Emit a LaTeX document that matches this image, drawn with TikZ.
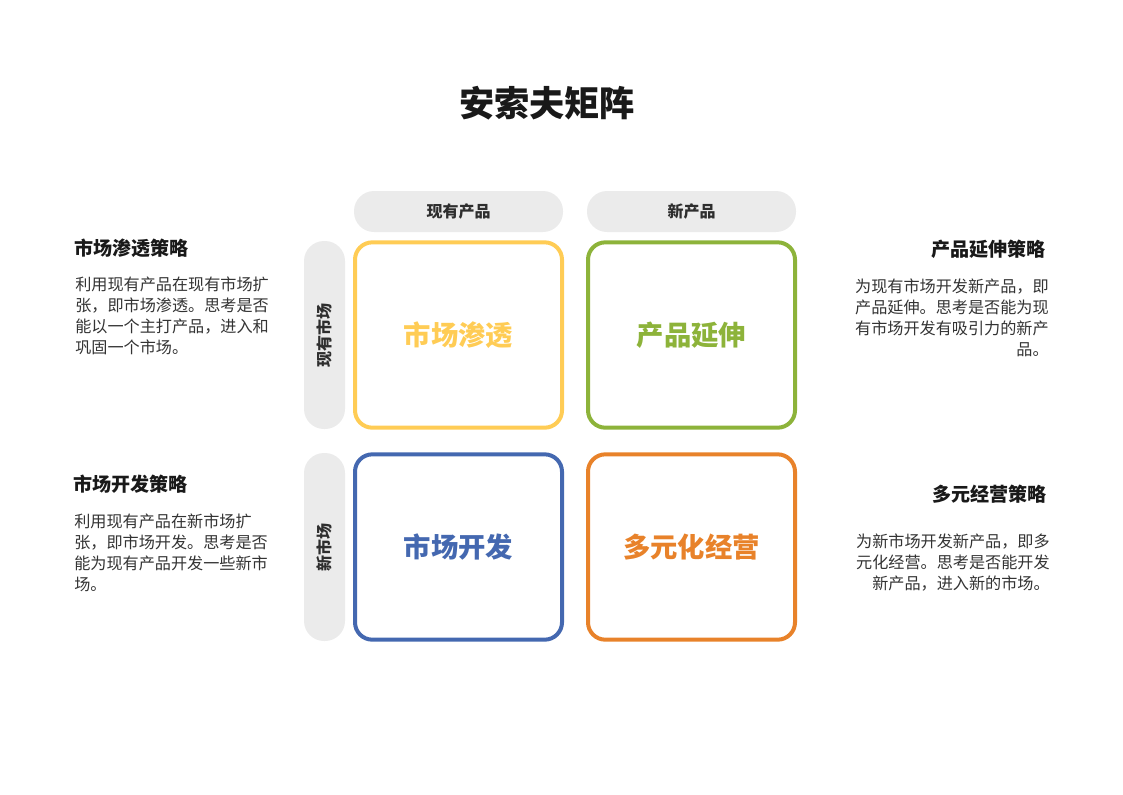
\documentclass[tikz,border=0pt]{standalone}
\usepackage{fontspec}
\setmainfont{Noto Sans CJK SC}
\usepackage{tikz}
\usetikzlibrary{positioning}

\definecolor{penyellow}{HTML}{FFCC55}
\definecolor{devgreen}{HTML}{8DB33A}
\definecolor{mktblue}{HTML}{4468B0}
\definecolor{divorange}{HTML}{E8822A}
\definecolor{pillgray}{HTML}{EBEBEB}
\definecolor{inktext}{HTML}{333333}

\begin{document}
\begin{tikzpicture}[x=0.75pt, y=-0.75pt,
            quad/.style={rectangle, draw, line width=3pt, rounded corners=13pt, minimum width=155.25pt, minimum height=139pt, font=\fontsize{20.5}{24}\selectfont\bfseries},
            tagh/.style={rectangle, fill=pillgray, rounded corners=15pt, minimum width=156.75pt, minimum height=30.75pt, text=inktext!90!black, font=\fontsize{12}{14}\selectfont\bfseries},
            tagv/.style={tagh, minimum width=141pt, rotate=90},
            head/.style={inner sep=0pt, text=black!90, font=\fontsize{14.3}{17}\selectfont\bfseries},
            body/.style={inner sep=0pt, text=inktext, font=\fontsize{12.1}{15.75}\selectfont}
        ]
            \useasboundingbox (0,0) rectangle (1123,794);
            % title
            \node[font=\fontsize{26.4}{30}\selectfont\bfseries, text=black!90] (title) at (547,103) {安索夫矩阵};
            % axis pills
            \node[tagh] (oldprod) at (458.5,211.5) {现有产品};
            \node[tagh] (newprod) at (691.5,211.5) {新产品};
            \node[tagv] (oldmkt) at (324.5,335) {现有市场};
            \node[tagv] (newmkt) at (324.5,547) {新市场};
            % the four quadrants
            \node[quad, draw=penyellow, text=penyellow] (pen) at (458.5,335) {市场渗透};
            \node[quad, draw=devgreen, text=devgreen] (ext) at (691.5,335) {产品延伸};
            \node[quad, draw=mktblue, text=mktblue] (dev) at (458.5,547) {市场开发};
            \node[quad, draw=divorange, text=divorange] (div) at (691.5,547) {多元化经营};
            % left notes
            \node[head, anchor=west] (penhead) at (74,248) {市场渗透策略};
            \node[body, anchor=north west, align=left] (pentext) at (75,277) {利用现有产品在现有市场扩\\张，即市场渗透。思考是否\\能以一个主打产品，进入和\\巩固一个市场。};
            \node[head, anchor=west] (devhead) at (73,484) {市场开发策略};
            \node[body, anchor=north west, align=left] (devtext) at (74,514) {利用现有产品在新市场扩\\张，即市场开发。思考是否\\能为现有产品开发一些新市\\场。};
            % right notes
            \node[head, anchor=east] (exthead) at (1046,249) {产品延伸策略};
            \node[body, anchor=north east, align=right] (exttext) at (1049,279) {为现有市场开发新产品，即\\产品延伸。思考是否能为现\\有市场开发有吸引力的新产\\品。};
            \node[head, anchor=east] (divhead) at (1047,494) {多元经营策略};
            \node[body, anchor=north east, align=right] (divtext) at (1050,534) {为新市场开发新产品，即多\\元化经营。思考是否能开发\\新产品，进入新的市场。};
        \end{tikzpicture}
\end{document}
